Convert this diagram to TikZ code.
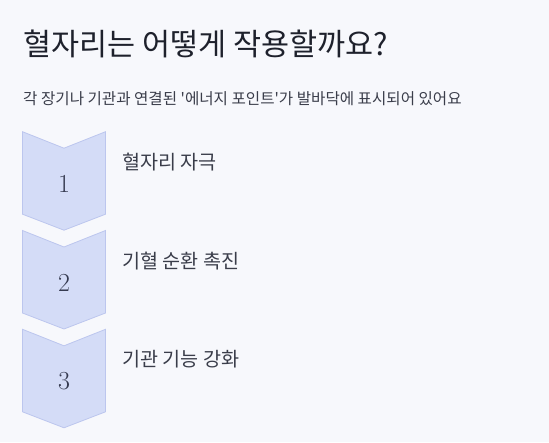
\documentclass[tikz,border=0pt]{standalone}
\usepackage{fontspec}
\setmainfont{Noto Sans CJK KR}[Ligatures=TeXOff]
\newfontfamily\numfont{Latin Modern Roman}
\usetikzlibrary{positioning}

\definecolor{bgcol}{HTML}{F7F8FC}
\definecolor{chevfill}{HTML}{D4DCF7}
\definecolor{chevline}{HTML}{BCC6EE}
\definecolor{titlecol}{HTML}{1E212C}
\definecolor{textcol}{HTML}{3A3D4A}
\definecolor{numcol}{HTML}{353A50}

\begin{document}
\begin{tikzpicture}[x=1pt, y=-1pt]
  % Hintergrund.
  \fill[bgcol] (0, 0) rectangle (549, 442);
  \useasboundingbox (0, 0) rectangle (549, 442);

  \tikzset{
    title/.style={anchor=west, inner sep=0pt, text=titlecol, font=\fontsize{30.5}{34}\selectfont},
    subtitle/.style={anchor=west, inner sep=0pt, text=textcol, font=\fontsize{15.6}{18}\selectfont},
    chev/.style={fill=chevfill, draw=chevline, line width=0.8pt, line join=miter},
    num/.style={inner sep=0pt, text=numcol, font=\numfont\fontsize{26}{28}\selectfont},
    steptext/.style={anchor=west, inner sep=0pt, text=textcol, font=\fontsize{19.6}{22}\selectfont}
  }

  % Titel.
  \node[title] (title) at (23, 44) {혈자리는 어떻게 작용할까요?};
  \node[subtitle] (sub) at (23, 99) {각 장기나 기관과 연결된 '에너지 포인트'가 발바닥에 표시되어 있어요};

  % Pfeile.
  \draw[chev] (22.5, 131.7) -- (64, 148.2) -- (105.5, 131.7) -- (105.5, 214.2)
    -- (64, 230.2) -- (22.5, 214.2) -- cycle;
  \draw[chev] (22.5, 230.5) -- (64, 247) -- (105.5, 230.5) -- (105.5, 313)
    -- (64, 329) -- (22.5, 313) -- cycle;
  \draw[chev] (22.5, 329.3) -- (64, 345.8) -- (105.5, 329.3) -- (105.5, 411.8)
    -- (64, 427.8) -- (22.5, 411.8) -- cycle;

  % Nummern.
  \node[num] (n1) at (64, 184) {1};
  \node[num] (n2) at (64, 282.5) {2};
  \node[num] (n3) at (64, 381) {3};

  % Schritte.
  \node[steptext] (s1) at (122, 162.5) {혈자리 자극};
  \node[steptext] (s2) at (122, 261) {기혈 순환 촉진};
  \node[steptext] (s3) at (122, 359.5) {기관 기능 강화};
\end{tikzpicture}
\end{document}
